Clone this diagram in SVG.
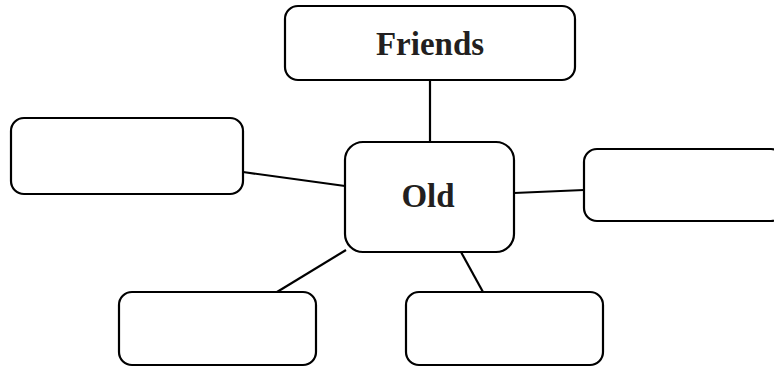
<svg xmlns="http://www.w3.org/2000/svg" width="774" height="367" viewBox="0 0 774 367">
<style>
.box{fill:#fff;stroke:#000;stroke-width:2.2}
.conn line{stroke:#000;stroke-width:2.2}
.lbl{font-family:"Liberation Serif","Times New Roman",serif;font-weight:bold;font-size:33px;fill:#231f20;text-anchor:middle}
</style>
<rect width="774" height="367" fill="#fff"/>
<g id="connectors" class="conn">
<line x1="430" y1="80" x2="430" y2="142"/>
<line x1="243" y1="172" x2="345" y2="186"/>
<line x1="514" y1="193" x2="584" y2="190"/>
<line x1="346" y1="250" x2="277" y2="292"/>
<line x1="461" y1="252" x2="483" y2="292"/>
</g>
<g id="friends"><rect class="box" x="285" y="6" width="290" height="74" rx="13"/><text class="lbl" x="430" y="55">Friends</text></g>
<g id="left"><rect class="box" x="11" y="118" width="232" height="76" rx="13"/></g>
<g id="old"><rect class="box" x="345" y="142" width="169" height="110" rx="18"/><text class="lbl" x="428" y="207">Old</text></g>
<g id="right"><rect class="box" x="584" y="149" width="200" height="72" rx="13"/></g>
<g id="bottom-left"><rect class="box" x="119" y="292" width="197" height="73" rx="13"/></g>
<g id="bottom-right"><rect class="box" x="406" y="292" width="197" height="73" rx="13"/></g>
</svg>
